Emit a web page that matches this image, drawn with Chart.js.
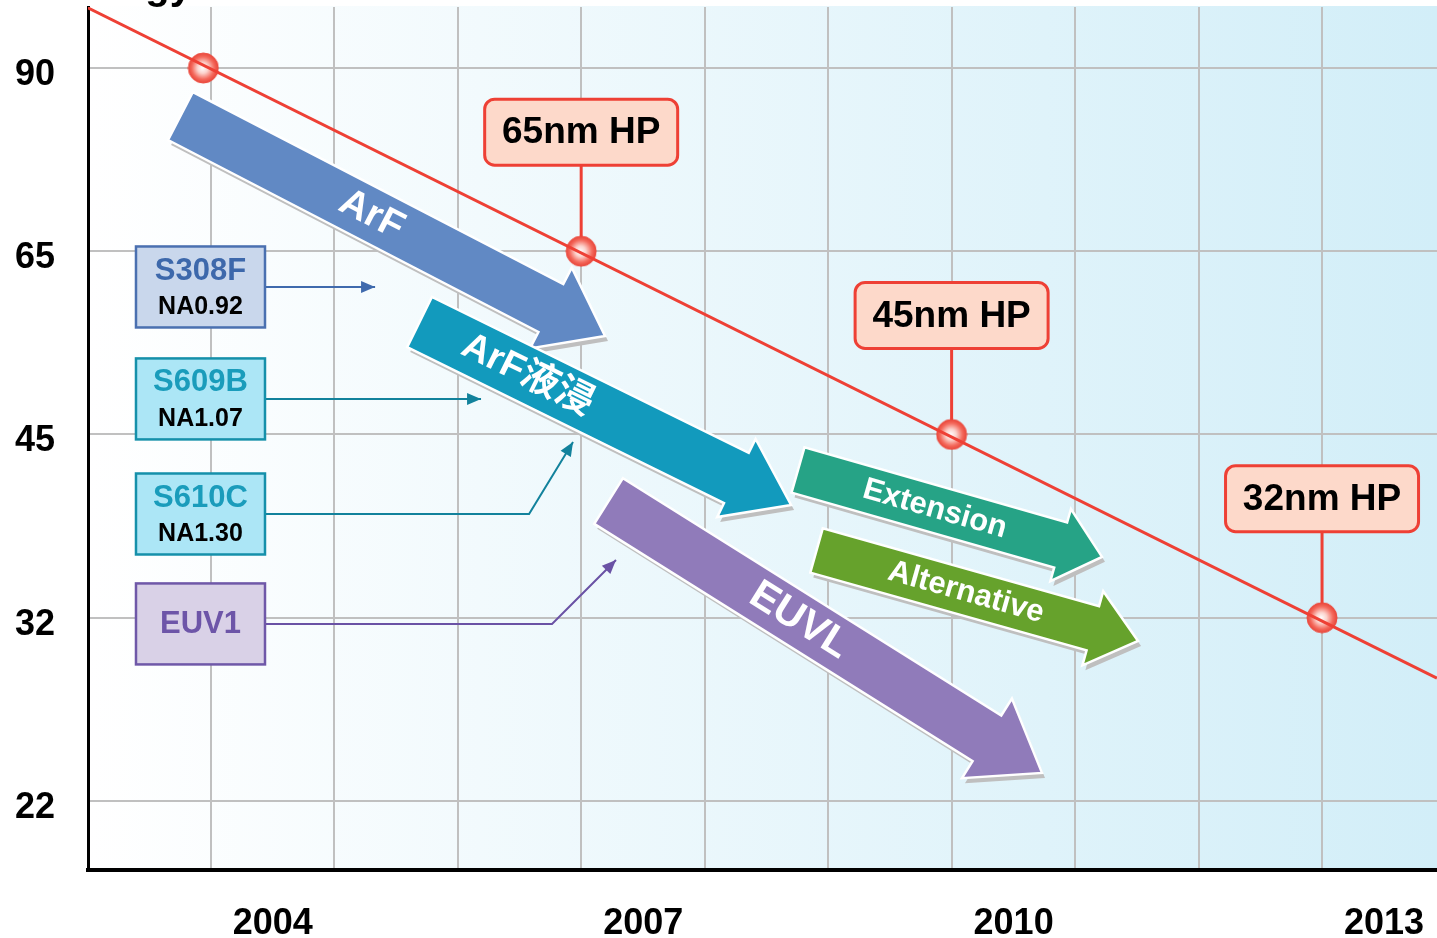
<!DOCTYPE html>
<html lang="zh">
<head>
  <meta charset="UTF-8">
  <title>Lithography roadmap</title>
  <script src="https://cdn.jsdelivr.net/npm/chart.js"></script>
  <style>
    html, body { margin: 0; padding: 0; background: #fff; }
    canvas { display: block; }
  </style>
</head>
<body>
  <canvas id="roadmap" width="1437" height="938"></canvas>

  <script>
    const FONT = '"Liberation Sans", Arial, "Noto Sans CJK SC", sans-serif';

    // axes
    const yearTicks = [2004, 2005, 2006, 2007, 2008, 2009, 2010, 2011, 2012, 2013];
    const yearLabels = [2004, 2007, 2010, 2013];
    const nodeTicks = [90, 65, 45, 32, 22];

    // red roadmap line (ends, y in node steps)
    const trendYears = [2003.0, 2013.93];
    const trendSteps = [-0.33, 3.33];

    // half pitch nodes on the line
    const nodeYears = [2003.94, 2007, 2010, 2013];
    const nodeHP = [90, 65, 45, 32];
    const nodeCallouts = ['', '65nm HP', '45nm HP', '32nm HP'];

    // technology arrows: [year, node step]
    const arrowLabels = ['ArF', 'ArF液浸', 'Extension', 'Alternative', 'EUVL'];
    const arrowFrom = [[2003.755, 0.262], [2005.691, 1.386], [2008.756, 2.194], [2008.906, 2.633], [2007.222, 2.363]];
    const arrowTo = [[2007.193, 1.463], [2008.700, 2.385], [2011.218, 2.668], [2011.510, 3.127], [2010.732, 3.847]];

    // exposure tools and where their pointers end
    const toolNames = ['S308F', 'S609B', 'S610C', 'EUV1'];
    const toolNA = ['NA0.92', 'NA1.07', 'NA1.30', ''];
    const toolYear = 2003.917;
    const toolStep = [1.195, 1.806, 2.434, 3.034];
    const toolPath = [
      [[2005.331, 1.195]],
      [[2006.189, 1.806]],
      [[2006.578, 2.434], [2006.934, 2.041]],
      [[2006.764, 3.034], [2007.282, 2.685]]
    ];

    // styles
    const arrowStyle = [
      { color: '#6189c4', w: 54, hw: 91, hl: 61, size: 39, t: 0.45 },
      { color: '#129abd', w: 56, hw: 87, hl: 61, size: 38, t: 0.29 },
      { color: '#26a386', w: 47, hw: 75, hl: 43, size: 31, t: 0.45 },
      { color: '#66a22c', w: 46, hw: 77, hl: 47, size: 31, t: 0.465 },
      { color: '#907bba', w: 54, hw: 94, hl: 65, size: 41, t: 0.44 }
    ];
    const toolStyle = [
      { fill: '#c9d7ec', stroke: '#4a70b0', text: '#3d68ab', line: '#3f6aad' },
      { fill: '#ace6f6', stroke: '#1590aa', text: '#1a9cbb', line: '#12829c' },
      { fill: '#ace6f6', stroke: '#1590aa', text: '#1a9cbb', line: '#12829c' },
      { fill: '#d9d1e7', stroke: '#6f58a8', text: '#6d55a8', line: '#6a52a5' }
    ];
    const RED = '#ee4035';

    // shiny node marker
    function makeBall(r) {
      const c = document.createElement('canvas');
      c.width = c.height = r * 2 + 2;
      const g = c.getContext('2d');
      const m = r + 1;
      const grad = g.createRadialGradient(m - 1, m, 0, m, m, r);
      grad.addColorStop(0, '#ffffff');
      grad.addColorStop(0.35, '#fcd3cd');
      grad.addColorStop(0.75, '#f4695c');
      grad.addColorStop(1, '#e8463a');
      g.fillStyle = grad;
      g.beginPath(); g.arc(m, m, r, 0, Math.PI * 2); g.fill();
      g.strokeStyle = '#ec4a3e'; g.lineWidth = 1; g.stroke();
      return c;
    }

    function arrowPoly(x0, y0, x1, y1, s) {
      const L = Math.hypot(x1 - x0, y1 - y0);
      const ux = (x1 - x0) / L, uy = (y1 - y0) / L;
      const nx = -uy, ny = ux;
      const kx = x1 - ux * s.hl, ky = y1 - uy * s.hl;
      return [
        [x0 + nx * s.w / 2, y0 + ny * s.w / 2],
        [kx + nx * s.w / 2, ky + ny * s.w / 2],
        [kx + nx * s.hw / 2, ky + ny * s.hw / 2],
        [x1, y1],
        [kx - nx * s.hw / 2, ky - ny * s.hw / 2],
        [kx - nx * s.w / 2, ky - ny * s.w / 2],
        [x0 - nx * s.w / 2, y0 - ny * s.w / 2]
      ];
    }

    function tracePoly(ctx, pts, dx, dy) {
      ctx.beginPath();
      pts.forEach((p, i) => i ? ctx.lineTo(p[0] + dx, p[1] + dy) : ctx.moveTo(p[0] + dx, p[1] + dy));
      ctx.closePath();
    }

    function roundRect(ctx, x, y, w, h, r) {
      ctx.beginPath();
      ctx.moveTo(x + r, y);
      ctx.arcTo(x + w, y, x + w, y + h, r);
      ctx.arcTo(x + w, y + h, x, y + h, r);
      ctx.arcTo(x, y + h, x, y, r);
      ctx.arcTo(x, y, x + w, y, r);
      ctx.closePath();
    }

    // keep the plot area exactly where the slide had it
    function noPad(s) {
      s.paddingTop = 0; s.paddingBottom = 0; s.paddingLeft = 0; s.paddingRight = 0;
    }

    const overlay = {
      id: 'overlay',
      beforeDraw(chart) {
        const { ctx, chartArea: a } = chart;
        ctx.save();
        ctx.fillStyle = '#ffffff';
        ctx.fillRect(0, 0, chart.width, chart.height);
        const g = ctx.createLinearGradient(a.left, 0, a.right, 0);
        g.addColorStop(0, '#ffffff');
        g.addColorStop(1, '#d2eef8');
        ctx.fillStyle = g;
        ctx.fillRect(a.left, a.top - 1, a.right - a.left, a.bottom - a.top + 1);
        ctx.restore();
      },
      beforeDatasetsDraw(chart) {
        const { ctx } = chart;
        const xs = chart.scales.x, ys = chart.scales.y;
        const px = v => xs.getPixelForValue(v), py = v => ys.getPixelForValue(v);
        ctx.save();

        // big arrows
        arrowLabels.forEach((label, i) => {
          const s = arrowStyle[i];
          const x0 = px(arrowFrom[i][0]), y0 = py(arrowFrom[i][1]);
          const x1 = px(arrowTo[i][0]), y1 = py(arrowTo[i][1]);
          const pts = arrowPoly(x0, y0, x1, y1, s);
          ctx.fillStyle = '#bfbfbf';
          tracePoly(ctx, pts, 3, 5);
          ctx.fill();
          ctx.fillStyle = s.color;
          tracePoly(ctx, pts, 0, 0);
          ctx.fill();
          ctx.strokeStyle = '#ffffff';
          ctx.lineWidth = 2.5;
          ctx.lineJoin = 'miter';
          ctx.stroke();

          const ang = Math.atan2(y1 - y0, x1 - x0);
          ctx.save();
          ctx.translate(x0 + (x1 - x0) * s.t, y0 + (y1 - y0) * s.t);
          ctx.rotate(ang);
          ctx.fillStyle = '#ffffff';
          ctx.font = 'bold ' + s.size + 'px ' + FONT;
          ctx.textAlign = 'center';
          ctx.textBaseline = 'middle';
          ctx.fillText(label, 0, 0);
          ctx.restore();
        });

        // tool boxes with pointers
        const bw = 129, bh = 81;
        toolNames.forEach((name, i) => {
          const s = toolStyle[i];
          const cx = px(toolYear), cy = py(toolStep[i]);
          const x = cx - bw / 2, y = cy - bh / 2;

          // pointer
          ctx.strokeStyle = s.line;
          ctx.fillStyle = s.line;
          ctx.lineWidth = 2;
          ctx.beginPath();
          ctx.moveTo(x + bw, cy);
          let lx = x + bw, ly = cy, ex = lx, ey = ly;
          toolPath[i].forEach(p => {
            lx = ex; ly = ey;
            ex = px(p[0]); ey = py(p[1]);
            ctx.lineTo(ex, ey);
          });
          const L = Math.hypot(ex - lx, ey - ly);
          const ux = (ex - lx) / L, uy = (ey - ly) / L;
          ctx.stroke();
          ctx.beginPath();
          ctx.moveTo(ex, ey);
          ctx.lineTo(ex - ux * 14 - uy * 6, ey - uy * 14 + ux * 6);
          ctx.lineTo(ex - ux * 14 + uy * 6, ey - uy * 14 - ux * 6);
          ctx.closePath();
          ctx.fill();

          // box
          ctx.fillStyle = s.fill;
          ctx.fillRect(x, y, bw, bh);
          ctx.strokeStyle = s.stroke;
          ctx.lineWidth = 2.5;
          ctx.strokeRect(x, y, bw, bh);

          ctx.textAlign = 'center';
          ctx.textBaseline = 'middle';
          if (toolNA[i]) {
            ctx.fillStyle = s.text;
            ctx.font = 'bold 31px ' + FONT;
            ctx.fillText(name, cx, cy - 16);
            ctx.fillStyle = '#000000';
            ctx.font = 'bold 25px ' + FONT;
            ctx.fillText(toolNA[i], cx, cy + 20);
          } else {
            ctx.fillStyle = s.text;
            ctx.font = 'bold 31px ' + FONT;
            ctx.fillText(name, cx, cy + 1);
          }
        });

        // callouts for the nodes
        nodeCallouts.forEach((txt, i) => {
          if (!txt) return;
          const cx = px(nodeYears[i]);
          const cy = py(nodeTicks.indexOf(nodeHP[i]));
          const w = 193, h = 66;
          const bottom = cy - 86;
          ctx.strokeStyle = RED;
          ctx.lineWidth = 3;
          ctx.beginPath();
          ctx.moveTo(cx, bottom);
          ctx.lineTo(cx, cy);
          ctx.stroke();
          roundRect(ctx, cx - w / 2, bottom - h, w, h, 10);
          ctx.fillStyle = '#fdd9ca';
          ctx.fill();
          ctx.stroke();
          ctx.fillStyle = '#000000';
          ctx.font = 'bold 37px ' + FONT;
          ctx.textAlign = 'center';
          ctx.textBaseline = 'middle';
          ctx.fillText(txt, cx, bottom - h / 2 + 1);
        });
        ctx.restore();
      },
      afterDraw(chart) {
        // bottom of the cut-off slide title
        const { ctx } = chart;
        ctx.save();
        ctx.fillStyle = '#000000';
        ctx.font = 'bold 40px ' + FONT;
        ctx.textAlign = 'right';
        ctx.textBaseline = 'alphabetic';
        ctx.fillText('Technology', 192, -1);
        ctx.restore();
      }
    };

    new Chart(document.getElementById('roadmap'), {
      type: 'line',
      data: {
        datasets: [
          {
            label: 'roadmap',
            data: trendYears.map((x, i) => ({ x: x, y: trendSteps[i] })),
            borderColor: RED,
            borderWidth: 3,
            pointRadius: 0
          },
          {
            label: 'nodes',
            data: nodeYears.map((x, i) => ({ x: x, y: nodeTicks.indexOf(nodeHP[i]) })),
            showLine: false,
            pointStyle: makeBall(15),
            pointRadius: 15
          }
        ]
      },
      options: {
        responsive: false,
        animation: false,
        devicePixelRatio: 1,
        layout: { autoPadding: false, padding: { top: 7, right: 0, bottom: 0, left: 0 } },
        plugins: { legend: { display: false }, tooltip: { enabled: false } },
        scales: {
          x: {
            type: 'linear',
            bounds: 'data',
            min: 2003.006,
            max: 2013.931,
            afterBuildTicks: s => { s.ticks = yearTicks.map(v => ({ value: v })); },
            afterFit: s => { s.height = 68; noPad(s); },
            grid: { color: '#c0c0c0', lineWidth: 2, drawTicks: false },
            border: { color: '#000000', width: 4 },
            ticks: {
              autoSkip: false,
              maxRotation: 0,
              padding: 32,
              labelOffset: 62,
              color: '#000000',
              font: { family: FONT, size: 36, weight: 'bold' },
              callback: v => yearLabels.includes(v) ? String(v) : ''
            }
          },
          y: {
            type: 'linear',
            bounds: 'data',
            reverse: true,
            min: -0.333,
            max: 4.377,
            afterBuildTicks: s => { s.ticks = nodeTicks.map((v, i) => ({ value: i })); },
            afterFit: s => { s.width = 88; noPad(s); },
            grid: { color: '#c0c0c0', lineWidth: 2, drawTicks: false },
            border: { color: '#000000', width: 3 },
            ticks: {
              autoSkip: false,
              padding: 33,
              labelOffset: 7,
              color: '#000000',
              font: { family: FONT, size: 36, weight: 'bold' },
              callback: v => String(nodeTicks[v])
            }
          }
        }
      },
      plugins: [overlay]
    });
  </script>
</body>
</html>
